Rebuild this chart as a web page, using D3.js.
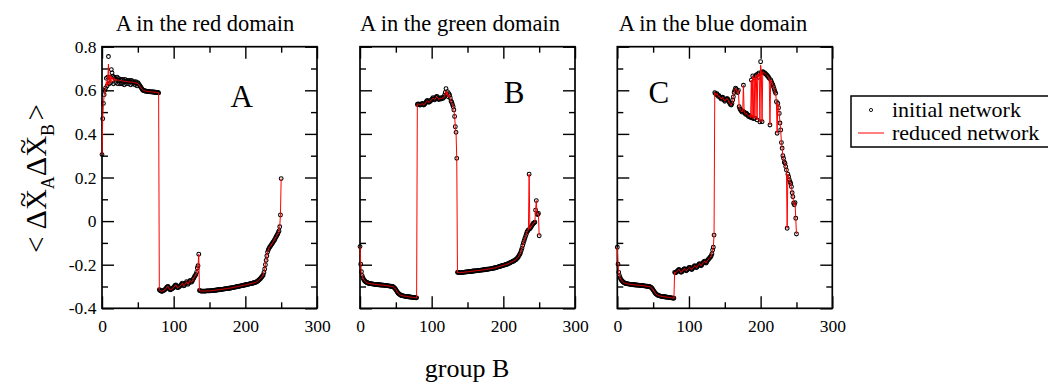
<!DOCTYPE html>
<html>
<head>
<meta charset="utf-8">
<script src="https://cdn.jsdelivr.net/npm/d3@7"></script>
<style>
  body { margin: 0; background: #fff; }
  svg { display: block; }
  text { font-family: "Liberation Serif", "Times New Roman", serif; fill: #000; }
</style>
</head>
<body>
<svg id="chart" width="1048" height="383"></svg>
<script>
// ---- data -------------------------------------------------------------
const panelTitles = ["A in the red domain", "A in the green domain", "A in the blue domain"];
const panelLetters = ["A", "B", "C"];
const letterAnchors = [[195, 0.523], [215, 0.542], [58, 0.542]]; // data units (group index, value)
const xMajorTicks = [0, 100, 200, 300];
const xMinorTicks = [50, 150, 250];
const yMajorTicks = [-0.4, -0.2, 0, 0.2, 0.4, 0.6, 0.8];
const yTickLabels = ["-0.4", "-0.2", "0", "0.2", "0.4", "0.6", "0.8"];
const yMinorTicks = [-0.3, -0.1, 0.1, 0.3, 0.5, 0.7];
const legendLabels = ["initial network", "reduced network"];
const xLabel = "group B";

// <dXA dXB> per group B index 0..250, initial network (circles)
const initialA = [
  0.305, 0.47, 0.54, 0.58, 0.60, 0.61, 0.655, 0.62, 0.66, 0.755,
  0.63, 0.66, 0.635, 0.695, 0.68, 0.665, 0.63, 0.66, 0.655, 0.635,
  0.65, 0.66, 0.63, 0.655, 0.645, 0.63, 0.65, 0.645, 0.63, 0.65,
  0.64, 0.625, 0.65, 0.64, 0.63, 0.645, 0.64, 0.63, 0.645, 0.64,
  0.625, 0.645, 0.64, 0.63, 0.64, 0.635, 0.625, 0.64, 0.635, 0.62,
  0.635, 0.63, 0.625, 0.62, 0.615, 0.61, 0.605, 0.60, 0.60, 0.598,
  0.597, 0.596, 0.596, 0.595, 0.595, 0.594, 0.594, 0.593, 0.593, 0.593,
  0.592, 0.592, 0.592, 0.591, 0.591, 0.591, 0.59, 0.59, 0.59, 0.588,
  -0.315, -0.318, -0.32, -0.322, -0.322, -0.32, -0.318, -0.316, -0.314, -0.31,
  -0.305, -0.302, -0.30, -0.305, -0.312, -0.315, -0.314, -0.312, -0.31, -0.307,
  -0.305, -0.30, -0.295, -0.293, -0.298, -0.305, -0.305, -0.303, -0.30, -0.297,
  -0.293, -0.29, -0.285, -0.29, -0.297, -0.295, -0.29, -0.285, -0.278, -0.283,
  -0.29, -0.285, -0.278, -0.272, -0.277, -0.28, -0.275, -0.268, -0.262, -0.255,
  -0.25, -0.245, -0.235, -0.215, -0.205, -0.152, -0.318, -0.32, -0.321, -0.321,
  -0.321, -0.321, -0.321, -0.321, -0.321, -0.321, -0.32, -0.32, -0.32, -0.32,
  -0.32, -0.32, -0.319, -0.319, -0.319, -0.318, -0.318, -0.317, -0.317, -0.317,
  -0.316, -0.316, -0.315, -0.315, -0.315, -0.314, -0.314, -0.313, -0.313, -0.312,
  -0.312, -0.311, -0.311, -0.31, -0.31, -0.309, -0.309, -0.308, -0.308, -0.307,
  -0.307, -0.306, -0.305, -0.305, -0.304, -0.303, -0.303, -0.302, -0.301, -0.30,
  -0.30, -0.299, -0.298, -0.298, -0.297, -0.296, -0.295, -0.295, -0.294, -0.293,
  -0.293, -0.292, -0.291, -0.29, -0.29, -0.289, -0.288, -0.287, -0.286, -0.286,
  -0.285, -0.284, -0.283, -0.282, -0.281, -0.28, -0.278, -0.276, -0.273, -0.27,
  -0.267, -0.264, -0.26, -0.256, -0.252, -0.247, -0.235, -0.22, -0.2, -0.18,
  -0.16, -0.142, -0.132, -0.125, -0.12, -0.115, -0.11, -0.105, -0.1, -0.095,
  -0.09, -0.085, -0.078, -0.072, -0.066, -0.06, -0.052, -0.045, -0.026, 0.028,
  0.195
];

const reducedA = [
  0.305, 0.47, 0.54, 0.575, 0.60, 0.605, 0.64, 0.62, 0.65, 0.72,
  0.625, 0.67, 0.635, 0.665, 0.65, 0.66, 0.64, 0.655, 0.645, 0.645,
  0.65, 0.648, 0.645, 0.648, 0.645, 0.643, 0.645, 0.644, 0.642, 0.643,
  0.642, 0.64, 0.642, 0.641, 0.64, 0.64, 0.639, 0.638, 0.639, 0.638,
  0.637, 0.638, 0.637, 0.636, 0.636, 0.635, 0.634, 0.634, 0.633, 0.632,
  0.63, 0.627, 0.623, 0.618, 0.613, 0.608, 0.604, 0.601, 0.599, 0.598,
  0.597, 0.596, 0.596, 0.595, 0.595, 0.594, 0.594, 0.593, 0.593, 0.593,
  0.592, 0.592, 0.592, 0.591, 0.591, 0.591, 0.59, 0.59, 0.59, 0.588,
  -0.315, -0.318, -0.32, -0.322, -0.322, -0.32, -0.318, -0.316, -0.314, -0.31,
  -0.305, -0.302, -0.30, -0.305, -0.312, -0.315, -0.314, -0.312, -0.31, -0.307,
  -0.305, -0.30, -0.295, -0.293, -0.298, -0.305, -0.305, -0.303, -0.30, -0.297,
  -0.293, -0.29, -0.285, -0.29, -0.297, -0.295, -0.29, -0.285, -0.278, -0.283,
  -0.29, -0.285, -0.278, -0.272, -0.277, -0.28, -0.275, -0.268, -0.262, -0.255,
  -0.25, -0.245, -0.235, -0.215, -0.205, -0.152, -0.318, -0.32, -0.321, -0.321,
  -0.321, -0.321, -0.321, -0.321, -0.321, -0.321, -0.32, -0.32, -0.32, -0.32,
  -0.32, -0.32, -0.319, -0.319, -0.319, -0.318, -0.318, -0.317, -0.317, -0.317,
  -0.316, -0.316, -0.315, -0.315, -0.315, -0.314, -0.314, -0.313, -0.313, -0.312,
  -0.312, -0.311, -0.311, -0.31, -0.31, -0.309, -0.309, -0.308, -0.308, -0.307,
  -0.307, -0.306, -0.305, -0.305, -0.304, -0.303, -0.303, -0.302, -0.301, -0.30,
  -0.30, -0.299, -0.298, -0.298, -0.297, -0.296, -0.295, -0.295, -0.294, -0.293,
  -0.293, -0.292, -0.291, -0.29, -0.29, -0.289, -0.288, -0.287, -0.286, -0.286,
  -0.285, -0.284, -0.283, -0.282, -0.281, -0.28, -0.278, -0.276, -0.273, -0.27,
  -0.267, -0.264, -0.26, -0.256, -0.252, -0.247, -0.235, -0.22, -0.2, -0.18,
  -0.16, -0.142, -0.132, -0.125, -0.12, -0.115, -0.11, -0.105, -0.1, -0.095,
  -0.09, -0.085, -0.078, -0.072, -0.066, -0.06, -0.052, -0.045, -0.026, 0.028,
  0.195
];

const initialB = [
  -0.117, -0.198, -0.232, -0.25, -0.26, -0.267, -0.272, -0.276, -0.279, -0.281,
  -0.283, -0.284, -0.285, -0.286, -0.287, -0.287, -0.288, -0.288, -0.289, -0.289,
  -0.29, -0.29, -0.291, -0.291, -0.291, -0.292, -0.292, -0.292, -0.293, -0.293,
  -0.293, -0.294, -0.294, -0.294, -0.295, -0.295, -0.295, -0.296, -0.296, -0.297,
  -0.297, -0.298, -0.298, -0.299, -0.30, -0.30, -0.301, -0.303, -0.306, -0.31,
  -0.315, -0.32, -0.325, -0.33, -0.333, -0.336, -0.338, -0.34, -0.341, -0.342,
  -0.343, -0.344, -0.344, -0.345, -0.345, -0.346, -0.346, -0.347, -0.347, -0.348,
  -0.348, -0.349, -0.349, -0.35, -0.35, -0.35, -0.351, -0.351, -0.352, -0.352,
  0.535, 0.538, 0.536, 0.533, 0.532, 0.534, 0.537, 0.54, 0.535, 0.532,
  0.536, 0.54, 0.545, 0.55, 0.553, 0.548, 0.545, 0.547, 0.55, 0.553,
  0.557, 0.562, 0.566, 0.56, 0.556, 0.56, 0.567, 0.572, 0.57, 0.562,
  0.558, 0.561, 0.565, 0.56, 0.562, 0.567, 0.563, 0.568, 0.578, 0.59,
  0.608, 0.58, 0.594, 0.57, 0.585, 0.578, 0.565, 0.55, 0.545, 0.535,
  0.525, 0.51, 0.48, 0.433, 0.407, 0.288, -0.235, -0.236, -0.236, -0.236,
  -0.236, -0.236, -0.235, -0.235, -0.235, -0.235, -0.234, -0.234, -0.233, -0.233,
  -0.233, -0.232, -0.232, -0.231, -0.231, -0.231, -0.23, -0.23, -0.229, -0.229,
  -0.229, -0.228, -0.228, -0.227, -0.227, -0.227, -0.226, -0.226, -0.225, -0.225,
  -0.225, -0.224, -0.224, -0.223, -0.223, -0.222, -0.222, -0.221, -0.221, -0.22,
  -0.22, -0.219, -0.219, -0.218, -0.218, -0.217, -0.216, -0.215, -0.215, -0.214,
  -0.213, -0.212, -0.211, -0.21, -0.209, -0.208, -0.207, -0.206, -0.205, -0.204,
  -0.203, -0.202, -0.201, -0.2, -0.199, -0.198, -0.197, -0.195, -0.193, -0.192,
  -0.19, -0.188, -0.187, -0.185, -0.184, -0.182, -0.18, -0.178, -0.175, -0.172,
  -0.168, -0.163, -0.158, -0.152, -0.145, -0.135, -0.125, -0.112, -0.1, -0.09,
  -0.08, -0.07, -0.06, -0.05, -0.045, -0.04, 0.215, -0.035, -0.03, -0.025,
  -0.02, -0.015, -0.01, -0.008, -0.005, 0.05, 0.094, 0.032, 0.03, 0.035,
  -0.067
];

const reducedB = [
  -0.117, -0.198, -0.232, -0.25, -0.26, -0.267, -0.272, -0.276, -0.279, -0.281,
  -0.283, -0.284, -0.285, -0.286, -0.287, -0.287, -0.288, -0.288, -0.289, -0.289,
  -0.29, -0.29, -0.291, -0.291, -0.291, -0.292, -0.292, -0.292, -0.293, -0.293,
  -0.293, -0.294, -0.294, -0.294, -0.295, -0.295, -0.295, -0.296, -0.296, -0.297,
  -0.297, -0.298, -0.298, -0.299, -0.30, -0.30, -0.301, -0.303, -0.306, -0.31,
  -0.315, -0.32, -0.325, -0.33, -0.333, -0.336, -0.338, -0.34, -0.341, -0.342,
  -0.343, -0.344, -0.344, -0.345, -0.345, -0.346, -0.346, -0.347, -0.347, -0.348,
  -0.348, -0.349, -0.349, -0.35, -0.35, -0.35, -0.351, -0.351, -0.352, -0.352,
  0.535, 0.537, 0.536, 0.534, 0.533, 0.534, 0.537, 0.539, 0.535, 0.533,
  0.536, 0.54, 0.545, 0.549, 0.552, 0.548, 0.546, 0.547, 0.55, 0.553,
  0.557, 0.561, 0.564, 0.56, 0.557, 0.56, 0.566, 0.57, 0.568, 0.562,
  0.559, 0.561, 0.564, 0.561, 0.562, 0.566, 0.563, 0.567, 0.575, 0.585,
  0.598, 0.578, 0.59, 0.568, 0.58, 0.572, 0.562, 0.55, 0.544, 0.535,
  0.525, 0.51, 0.48, 0.433, 0.407, 0.288, -0.235, -0.236, -0.236, -0.236,
  -0.236, -0.236, -0.235, -0.235, -0.235, -0.235, -0.234, -0.234, -0.233, -0.233,
  -0.233, -0.232, -0.232, -0.231, -0.231, -0.231, -0.23, -0.23, -0.229, -0.229,
  -0.229, -0.228, -0.228, -0.227, -0.227, -0.227, -0.226, -0.226, -0.225, -0.225,
  -0.225, -0.224, -0.224, -0.223, -0.223, -0.222, -0.222, -0.221, -0.221, -0.22,
  -0.22, -0.219, -0.219, -0.218, -0.218, -0.217, -0.216, -0.215, -0.215, -0.214,
  -0.213, -0.212, -0.211, -0.21, -0.209, -0.208, -0.207, -0.206, -0.205, -0.204,
  -0.203, -0.202, -0.201, -0.2, -0.199, -0.198, -0.197, -0.195, -0.193, -0.192,
  -0.19, -0.188, -0.187, -0.185, -0.184, -0.182, -0.18, -0.178, -0.175, -0.172,
  -0.168, -0.163, -0.158, -0.152, -0.145, -0.135, -0.125, -0.112, -0.1, -0.09,
  -0.08, -0.07, -0.06, -0.05, -0.045, -0.04, 0.215, -0.035, -0.03, -0.025,
  -0.02, -0.015, -0.01, -0.008, -0.005, 0.05, 0.094, 0.032, 0.03, 0.035,
  -0.067
];

const initialC = [
  -0.12, -0.198, -0.235, -0.25, -0.26, -0.267, -0.272, -0.276, -0.279, -0.282,
  -0.284, -0.285, -0.286, -0.287, -0.288, -0.288, -0.289, -0.289, -0.29, -0.29,
  -0.291, -0.291, -0.292, -0.292, -0.292, -0.293, -0.293, -0.293, -0.294, -0.294,
  -0.294, -0.295, -0.295, -0.295, -0.296, -0.296, -0.296, -0.297, -0.297, -0.298,
  -0.298, -0.299, -0.299, -0.30, -0.30, -0.301, -0.302, -0.304, -0.307, -0.311,
  -0.316, -0.321, -0.326, -0.331, -0.334, -0.337, -0.339, -0.341, -0.342, -0.343,
  -0.344, -0.345, -0.345, -0.346, -0.346, -0.347, -0.347, -0.348, -0.348, -0.349,
  -0.349, -0.35, -0.35, -0.351, -0.351, -0.352, -0.352, -0.353, -0.353, -0.354,
  -0.235, -0.237, -0.236, -0.232, -0.228, -0.225, -0.222, -0.225, -0.232, -0.235,
  -0.233, -0.228, -0.224, -0.22, -0.218, -0.222, -0.228, -0.226, -0.222, -0.218,
  -0.214, -0.212, -0.215, -0.22, -0.222, -0.218, -0.213, -0.208, -0.205, -0.208,
  -0.213, -0.212, -0.207, -0.202, -0.198, -0.195, -0.2, -0.205, -0.2, -0.195,
  -0.19, -0.186, -0.184, -0.19, -0.192, -0.186, -0.18, -0.176, -0.172, -0.168,
  -0.165, -0.16, -0.15, -0.133, -0.12, -0.064, 0.589, 0.585, 0.58, 0.585,
  0.578, 0.572, 0.575, 0.57, 0.565, 0.56, 0.565, 0.568, 0.56, 0.555,
  0.55, 0.555, 0.56, 0.562, 0.56, 0.553, 0.546, 0.54, 0.535, 0.532,
  0.54, 0.555, 0.57, 0.59, 0.60, 0.61, 0.605, 0.595, 0.59, 0.60,
  0.525, 0.515, 0.51, 0.505, 0.50, 0.505, 0.623, 0.50, 0.495, 0.49,
  0.495, 0.49, 0.485, 0.48, 0.485, 0.48, 0.475, 0.647, 0.475, 0.666,
  0.47, 0.658, 0.472, 0.665, 0.67, 0.464, 0.675, 0.66, 0.68, 0.455,
  0.731, 0.68, 0.456, 0.685, 0.683, 0.68, 0.678, 0.675, 0.672, 0.668,
  0.665, 0.66, 0.655, 0.441, 0.648, 0.64, 0.632, 0.625, 0.615, 0.605,
  0.595, 0.586, 0.548, 0.403, 0.54, 0.52, 0.494, 0.45, 0.418, 0.36,
  0.334, 0.30, 0.288, 0.27, 0.265, 0.25, 0.234, -0.033, 0.215, 0.204,
  0.19, 0.18, 0.173, 0.158, 0.13, 0.112, 0.082, 0.075, 0.085, 0.013,
  -0.059
];

const reducedC = [
  -0.12, -0.198, -0.235, -0.25, -0.26, -0.267, -0.272, -0.276, -0.279, -0.282,
  -0.284, -0.285, -0.286, -0.287, -0.288, -0.288, -0.289, -0.289, -0.29, -0.29,
  -0.291, -0.291, -0.292, -0.292, -0.292, -0.293, -0.293, -0.293, -0.294, -0.294,
  -0.294, -0.295, -0.295, -0.295, -0.296, -0.296, -0.296, -0.297, -0.297, -0.298,
  -0.298, -0.299, -0.299, -0.30, -0.30, -0.301, -0.302, -0.304, -0.307, -0.311,
  -0.316, -0.321, -0.326, -0.331, -0.334, -0.337, -0.339, -0.341, -0.342, -0.343,
  -0.344, -0.345, -0.345, -0.346, -0.346, -0.347, -0.347, -0.348, -0.348, -0.349,
  -0.349, -0.35, -0.35, -0.351, -0.351, -0.352, -0.352, -0.353, -0.353, -0.354,
  -0.235, -0.237, -0.236, -0.232, -0.228, -0.225, -0.222, -0.225, -0.232, -0.235,
  -0.233, -0.228, -0.224, -0.22, -0.218, -0.222, -0.228, -0.226, -0.222, -0.218,
  -0.214, -0.212, -0.215, -0.22, -0.222, -0.218, -0.213, -0.208, -0.205, -0.208,
  -0.213, -0.212, -0.207, -0.202, -0.198, -0.195, -0.2, -0.205, -0.2, -0.195,
  -0.19, -0.186, -0.184, -0.19, -0.192, -0.186, -0.18, -0.176, -0.172, -0.168,
  -0.165, -0.16, -0.15, -0.133, -0.12, -0.064, 0.589, 0.585, 0.58, 0.585,
  0.578, 0.572, 0.575, 0.57, 0.565, 0.56, 0.565, 0.568, 0.56, 0.555,
  0.55, 0.555, 0.56, 0.562, 0.56, 0.553, 0.546, 0.54, 0.535, 0.532,
  0.54, 0.555, 0.57, 0.59, 0.60, 0.61, 0.605, 0.595, 0.59, 0.60,
  0.525, 0.515, 0.51, 0.505, 0.50, 0.505, 0.623, 0.50, 0.495, 0.49,
  0.495, 0.49, 0.485, 0.48, 0.485, 0.48, 0.475, 0.647, 0.475, 0.666,
  0.47, 0.658, 0.472, 0.665, 0.67, 0.464, 0.675, 0.66, 0.68, 0.455,
  0.715, 0.68, 0.456, 0.685, 0.683, 0.68, 0.678, 0.675, 0.672, 0.668,
  0.665, 0.66, 0.655, 0.441, 0.648, 0.64, 0.632, 0.625, 0.615, 0.605,
  0.595, 0.586, 0.548, 0.403, 0.54, 0.52, 0.494, 0.45, 0.418, 0.36,
  0.334, 0.30, 0.288, 0.27, 0.265, 0.25, 0.234, -0.033, 0.215, 0.204,
  0.19, 0.18, 0.173, 0.158, 0.13, 0.112, 0.082, 0.075, 0.085, 0.013,
  -0.059
];

const initialSeries = [initialA, initialB, initialC];
const reducedSeries = [reducedA, reducedB, reducedC];

// ---- layout -----------------------------------------------------------
const svg = d3.select("#chart");
const panelLeft = [102, 360, 617.3];
const panelWidth = 215;
const plotTop = 46.7, plotBottom = 308.3;
const majorLen = 12, minorLen = 6;
const lineColor = "#ff0000";
const serif = '"Liberation Serif", "Times New Roman", serif';

const y = d3.scaleLinear().domain([-0.4, 0.8]).range([plotBottom, plotTop]);

panelTitles.forEach((title, i) => {
  const left = panelLeft[i];
  const x = d3.scaleLinear().domain([0, 300]).range([left, left + panelWidth]);
  const g = svg.append("g");

  // title
  const titleCenters = [205, 460, 713];
  g.append("text")
    .attr("x", titleCenters[i]).attr("y", 30.5)
    .attr("text-anchor", "middle")
    .style("font-size", "22.5px")
    .text(title);

  // ticks on all four sides, pointing inward
  const axes = [
    { gen: d3.axisBottom(x), t: `translate(0,${plotBottom})`, labels: true },
    { gen: d3.axisTop(x), t: `translate(0,${plotTop})`, labels: false }
  ];
  axes.forEach(a => {
    g.append("g").attr("transform", a.t)
      .call(a.gen.tickValues(xMinorTicks).tickSize(-minorLen).tickFormat(""));
    g.append("g").attr("transform", a.t)
      .call(a.gen.tickValues(xMajorTicks).tickSize(-majorLen).tickPadding(11)
        .tickFormat(d => a.labels ? String(d) : ""));
  });
  const yAxes = [
    { gen: d3.axisLeft(y), t: `translate(${left},0)`, labels: i === 0 },
    { gen: d3.axisRight(y), t: `translate(${left + panelWidth},0)`, labels: false }
  ];
  yAxes.forEach(a => {
    g.append("g").attr("transform", a.t)
      .call(a.gen.tickValues(yMinorTicks).tickSize(-minorLen).tickFormat(""));
    g.append("g").attr("transform", a.t)
      .call(a.gen.tickValues(yMajorTicks).tickSize(-majorLen).tickPadding(5.5)
        .tickFormat((d, k) => a.labels ? yTickLabels[k] : ""));
  });
  g.selectAll(".domain").remove();
  g.selectAll(".tick line").attr("stroke", "#000").attr("stroke-width", 1.4);
  g.selectAll(".tick text")
    .attr("font-family", serif)
    .style("font-family", serif)
    .style("font-size", "17.5px").attr("fill", "#000");

  // frame
  g.append("rect")
    .attr("x", left).attr("y", plotTop)
    .attr("width", panelWidth).attr("height", plotBottom - plotTop)
    .attr("fill", "none").attr("stroke", "#000").attr("stroke-width", 1.7);

  // initial network: open circles
  const pts = initialSeries[i].map((v, k) => [k, v]);
  g.append("g").selectAll("circle").data(pts).join("circle")
    .attr("cx", d => x(d[0])).attr("cy", d => y(d[1]))
    .attr("r", 1.9)
    .attr("fill", "none").attr("stroke", "#000").attr("stroke-width", 1.05);

  // reduced network: red line
  const line = d3.line().x(d => x(d[0])).y(d => y(d[1]));
  g.append("path")
    .datum(reducedSeries[i].map((v, k) => [k, v]))
    .attr("d", line)
    .attr("fill", "none").attr("stroke", lineColor).attr("stroke-width", 1);

  // panel letter
  g.append("text")
    .attr("x", x(letterAnchors[i][0])).attr("y", y(letterAnchors[i][1]))
    .attr("text-anchor", "middle")
    .style("font-size", "31px")
    .text(panelLetters[i]);
});

// ---- x label --------------------------------------------------------
svg.append("text")
  .attr("x", 467).attr("y", 377)
  .attr("text-anchor", "middle")
  .style("font-size", "26px")
  .text(xLabel);

// ---- y label: < ΔX̃_A ΔX̃_B > -----------------------------------------
(function () {
  const g = svg.append("g").attr("transform", "translate(46,178.5) rotate(-90)");
  const pieces = [
    { t: "<", s: 29, dy: 0 },
    { t: "\u00a0", s: 29, dy: 0 },
    { t: "\u0394", s: 30, dy: 0 },
    { t: "X", s: 29, dy: 0, tilde: true },
    { t: "A", s: 18, dy: 8 },
    { t: "\u0394", s: 30, dy: 0 },
    { t: "X", s: 29, dy: 0, tilde: true },
    { t: "B", s: 18, dy: 8 },
    { t: "\u00a0", s: 14, dy: 0 },
    { t: ">", s: 29, dy: 0 }
  ];
  let cursor = 0;
  const nodes = [];
  pieces.forEach(p => {
    const el = g.append("text").attr("x", cursor).attr("y", p.dy)
      .style("font-size", p.s + "px").text(p.t);
    const w = el.node().getComputedTextLength();
    nodes.push({ el, x: cursor, w, p });
    cursor += w;
  });
  const shift = -cursor / 2;
  nodes.forEach(n => {
    n.el.attr("x", n.x + shift);
    if (n.p.tilde) {
      const tl = g.append("text")
        .attr("x", n.x + shift + n.w / 2).attr("y", 0)
        .attr("text-anchor", "middle")
        .style("font-size", "27px").text("~");
      const bb = tl.node().getBBox();
      const cy = bb.y + bb.height / 2;
      tl.attr("y", -23 - cy);
    }
  });
})();

// ---- legend -----------------------------------------------------------
(function () {
  const g = svg.append("g");
  g.append("rect")
    .attr("x", 851).attr("y", 96).attr("width", 260).attr("height", 51)
    .attr("fill", "#fff").attr("stroke", "#000").attr("stroke-width", 1.5);
  g.append("circle").attr("cx", 871).attr("cy", 110).attr("r", 1.6)
    .attr("fill", "none").attr("stroke", "#000").attr("stroke-width", 0.9);
  g.append("line").attr("x1", 858).attr("x2", 884).attr("y1", 133).attr("y2", 133)
    .attr("stroke", lineColor).attr("stroke-width", 1);
  g.append("text").attr("x", 892).attr("y", 117).style("font-size", "22px").text(legendLabels[0]);
  g.append("text").attr("x", 892).attr("y", 140).style("font-size", "22px").text(legendLabels[1]);
})();
</script>
</body>
</html>
